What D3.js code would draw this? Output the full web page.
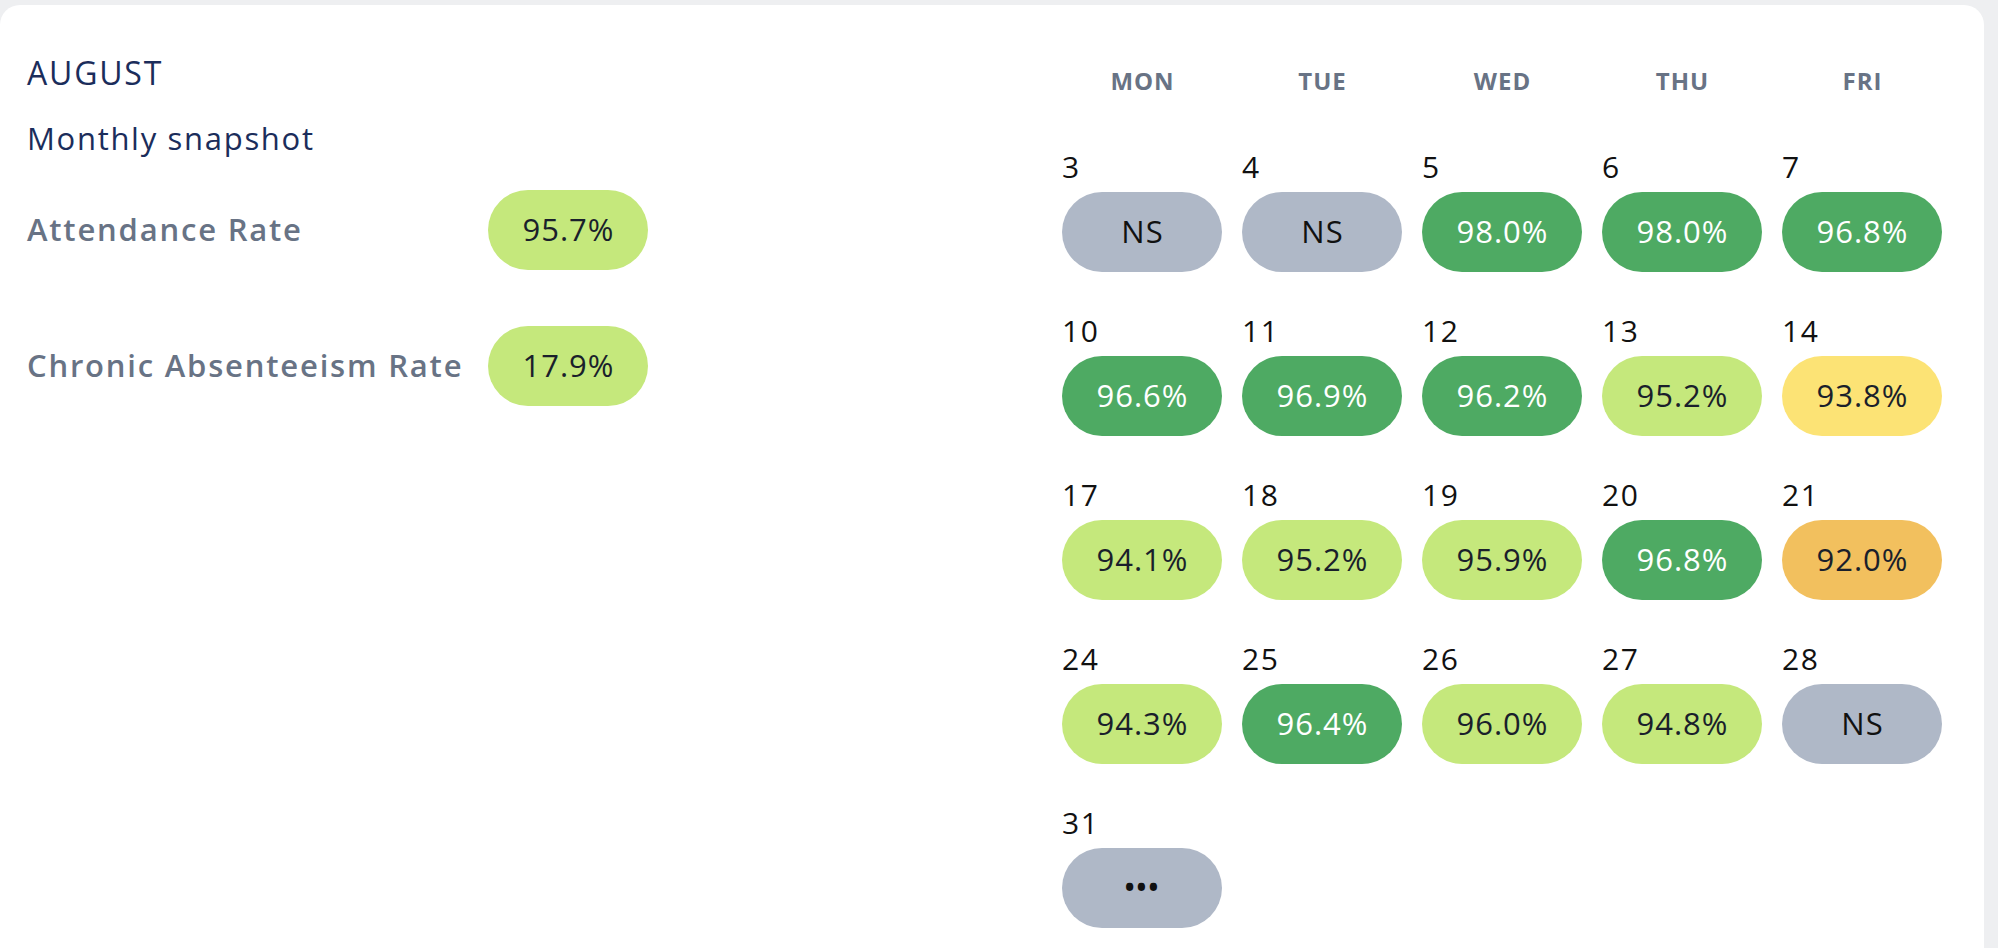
<!DOCTYPE html>
<html>
<head>
<meta charset="utf-8">
<script src="https://cdn.jsdelivr.net/npm/d3@7"></script>
<style>
  body { margin: 0; background: #eeeff1; }
  svg { display: block; font-family: "Open Sans", "Noto Sans", sans-serif; }
</style>
</head>
<body>
<svg id="chart" width="1998" height="948"></svg>
<script>
// weekday header and calendar cells (rate is null when there is no value)
const weekdays = ["MON", "TUE", "WED", "THU", "FRI"];
const dates = [3, 4, 5, 6, 7, 10, 11, 12, 13, 14, 17, 18, 19, 20, 21, 24, 25, 26, 27, 28, 31];
const rates = [null, null, 98.0, 98.0, 96.8,
               96.6, 96.9, 96.2, 95.2, 93.8,
               94.1, 95.2, 95.9, 96.8, 92.0,
               94.3, 96.4, 96.0, 94.8, null,
               null];
const emptyLabels = ["NS", "NS", "", "", "", "", "", "", "", "", "", "", "", "", "", "", "", "", "", "NS", "•••"];

// monthly summary
const monthName = "AUGUST";
const subtitle = "Monthly snapshot";
const summaryLabels = ["Attendance Rate", "Chronic Absenteeism Rate"];
const summaryValues = [95.7, 17.9];

const cells = dates.map((d, i) => ({
  date: d,
  rate: rates[i],
  empty: emptyLabels[i],
  col: i % 5,
  week: Math.floor(i / 5)
}));

const svg = d3.select("#chart");

// card
svg.append("rect")
  .attr("x", 0)
  .attr("y", 5)
  .attr("width", 1984)
  .attr("height", 980)
  .attr("rx", 20)
  .attr("fill", "#ffffff");

const rateColor = d3.scaleThreshold()
  .domain([93, 94, 96.1])
  .range(["#f2c05e", "#fce375", "#c5e87c", "#4eaa63"]);

const textColor = d3.scaleThreshold()
  .domain([96.1])
  .range(["#1a1f2b", "#ffffff"]);

/**
 * Draws a pill with its centered label
 */
function drawPill(g, x, y, w, h, fill, label, color) {
  g.append("rect")
    .attr("x", x)
    .attr("y", y)
    .attr("width", w)
    .attr("height", h)
    .attr("rx", h / 2)
    .attr("fill", fill);
  g.append("text")
    .attr("class", "pill-label")
    .attr("x", x + w / 2 + 0.5)
    .attr("y", y + h / 2)
    .attr("dy", "0.36em")
    .attr("text-anchor", "middle")
    .attr("font-size", 31)
    .attr("letter-spacing", 1)
    .attr("fill", color)
    .text(label);
}

// ---- left summary ----
const left = svg.append("g");

left.append("text")
  .attr("x", 27)
  .attr("y", 85)
  .attr("font-size", 32)
  .attr("font-weight", 500)
  .attr("letter-spacing", 1.8)
  .attr("fill", "#1b2d5b")
  .text(monthName);

left.append("text")
  .attr("x", 27)
  .attr("y", 150)
  .attr("font-size", 31)
  .attr("letter-spacing", 1.7)
  .attr("fill", "#1b2d5b")
  .text(subtitle);

const ySummary = d3.scaleBand()
  .domain(d3.range(summaryLabels.length))
  .range([190, 406])
  .paddingInner(56 / 136);

const summaryG = left.selectAll(".summary-g")
  .data(summaryLabels)
  .join("g")
  .attr("class", "summary-g");

summaryG.append("text")
  .attr("x", 27)
  .attr("y", (d, i) => ySummary(i) + ySummary.bandwidth() / 2)
  .attr("dy", "0.36em")
  .attr("font-size", 31)
  .attr("font-weight", 600)
  .attr("letter-spacing", 1.8)
  .attr("fill", "#687385")
  .text(d => d);

summaryG.each(function (d, i) {
  drawPill(d3.select(this), 488, ySummary(i), 160, ySummary.bandwidth(),
    "#c5e87c", summaryValues[i].toFixed(1) + "%", "#1a1f2b");
});

// ---- calendar ----
const xScale = d3.scaleBand()
  .domain(weekdays)
  .range([1062, 1942])
  .paddingInner(20 / 180);

const yScale = d3.scaleBand()
  .domain(d3.range(5))
  .range([192, 928])
  .paddingInner(84 / 164);

svg.append("g")
  .selectAll("text")
  .data(weekdays)
  .join("text")
  .attr("x", d => xScale(d) + xScale.bandwidth() / 2 + 0.5)
  .attr("y", 90)
  .attr("text-anchor", "middle")
  .attr("font-size", 24)
  .attr("font-weight", 700)
  .attr("letter-spacing", 1)
  .attr("fill", "#687385")
  .text(d => d);

const cellG = svg.append("g")
  .selectAll(".day-g")
  .data(cells)
  .join("g")
  .attr("class", "day-g");

cellG.append("text")
  .attr("x", d => xScale(weekdays[d.col]))
  .attr("y", d => yScale(d.week) - 14)
  .attr("font-size", 30)
  .attr("letter-spacing", 1.5)
  .attr("fill", "#111111")
  .text(d => d.date);

cellG.each(function (d) {
  const hasRate = d.rate !== null;
  drawPill(d3.select(this),
    xScale(weekdays[d.col]), yScale(d.week),
    xScale.bandwidth(), yScale.bandwidth(),
    hasRate ? rateColor(d.rate) : "#afb8c7",
    hasRate ? d.rate.toFixed(1) + "%" : d.empty,
    hasRate ? textColor(d.rate) : "#111111");
});

cellG.filter(d => d.empty === "•••")
  .select(".pill-label")
  .attr("font-weight", 700)
  .attr("font-size", 26)
  .attr("letter-spacing", 2);
</script>
</body>
</html>
